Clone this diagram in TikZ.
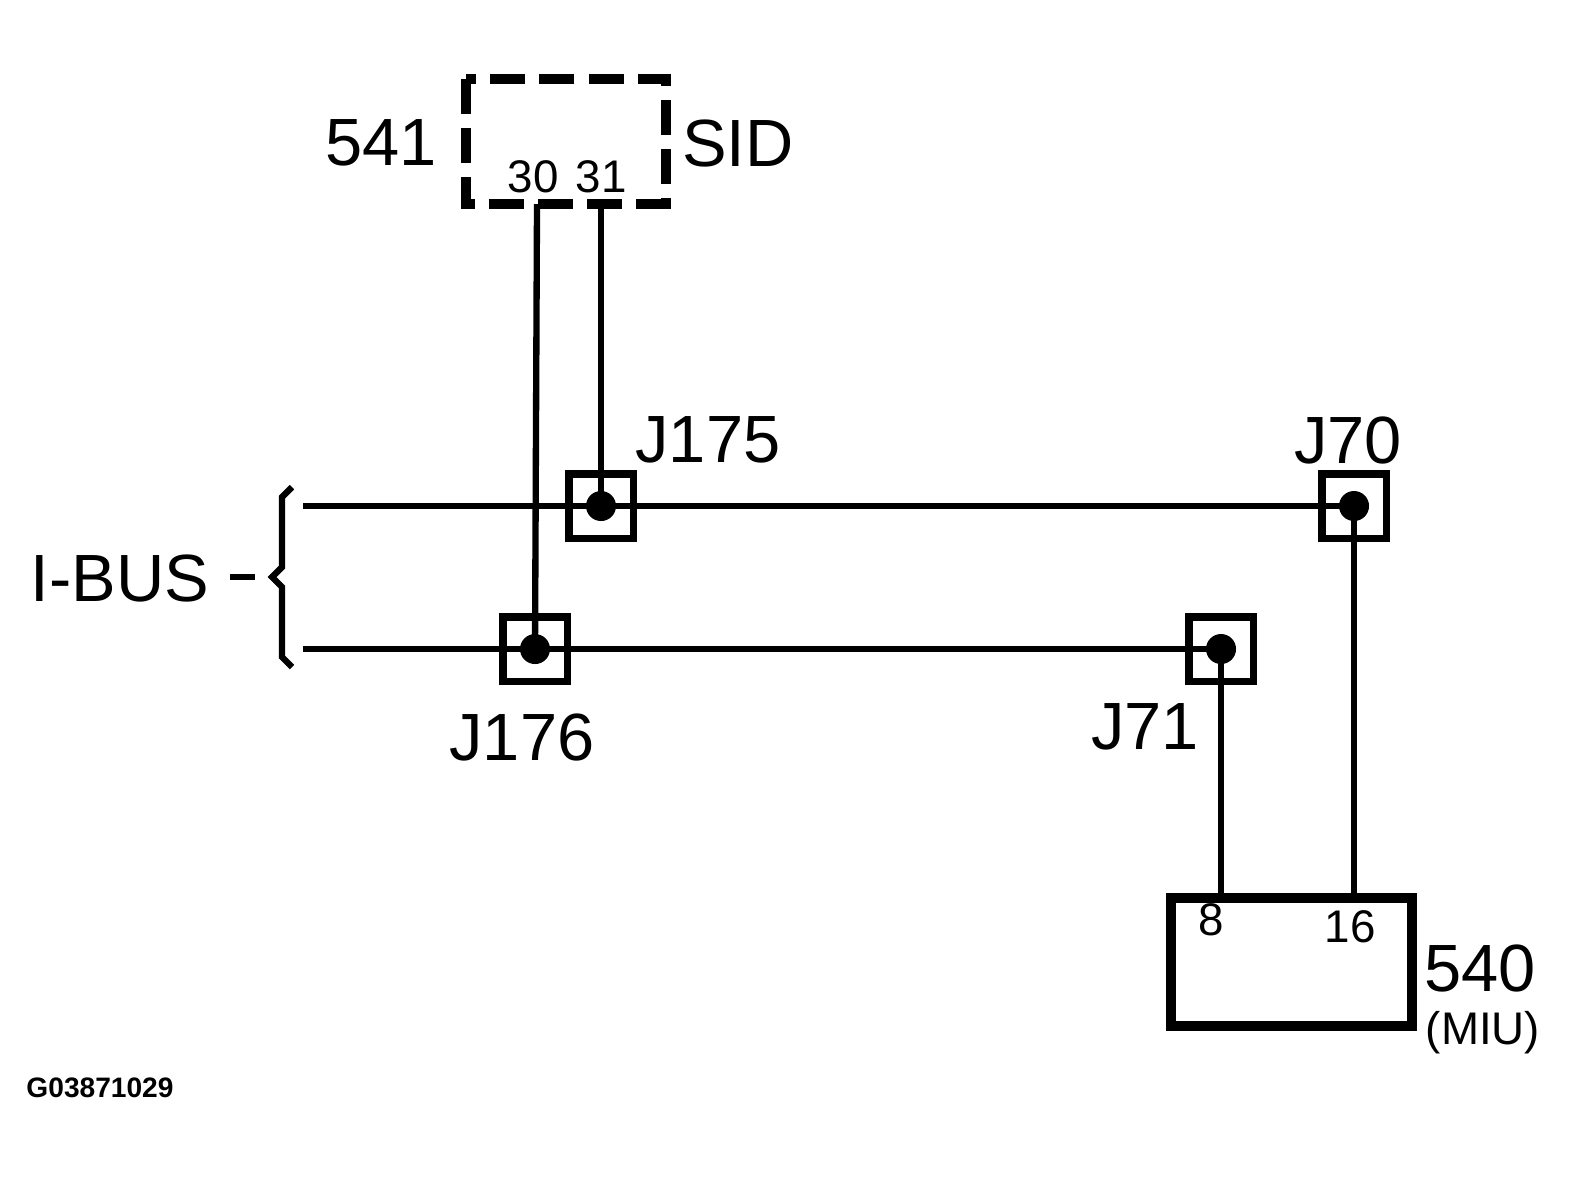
\documentclass[tikz,border=0pt]{standalone}
\usepackage{fontspec}
\setmainfont{Liberation Sans}
\tikzset{
  wire/.style={line width=1.8pt},
  splice/.style={draw,line width=2pt,minimum size=0.64cm,inner sep=0pt},
  bigtxt/.style={font=\fontsize{19}{22}\selectfont},
  pintxt/.style={font=\fontsize{13}{15}\selectfont},
}
\begin{document}
\begin{tikzpicture}[x=0.01cm,y=-0.01cm]
  \useasboundingbox (0,0) rectangle (1580,1181);

  % SID module
  \draw[line width=2.8pt,dash pattern=on 10pt off 4pt] (466,79) rectangle (666,204);
  \node[pintxt] (p30) at (533,177) {30};
  \node[pintxt] (p31) at (601,177) {31};
  \coordinate (s30) at (537,204);
  \coordinate (s31) at (601,204);
  \node[bigtxt] (n541) at (381,143) {541};
  \node[bigtxt] (sid) at (738,143) {SID};

  % splices
  \node[splice] (j175) at (601,506) {};
  \node[splice] (j70) at (1354,506) {};
  \node[splice] (j176) at (535,649) {};
  \node[splice] (j71) at (1221,649) {};
  \foreach \j in {j175,j70,j176,j71}
    \fill (\j.center) circle (0.15cm);
  \node[bigtxt] at (708,440) {J175};
  \node[bigtxt] at (1348,440) {J70};
  \node[bigtxt] at (522,737) {J176};
  \node[bigtxt] at (1145,727) {J71};

  % bus lines
  \coordinate (b1) at (303,506);
  \coordinate (b2) at (303,649);
  \draw[wire] (b1) -- (j175.center) -- (j70.center);
  \draw[wire] (b2) -- (j176.center) -- (j71.center);
  \draw[wire] (s31) -- (j175.center);
  \draw[wire] (s30) -- (j176.center);

  % I-BUS brace
  \draw[wire] (292,487) -- (282,497) -- (282,567) -- (272,577) -- (282,587) -- (282,657) -- (292,667);
  \draw[wire] (230,577) -- (255,577);
  \node[bigtxt] (ibus) at (120,578) {I-BUS};

  % MIU module
  \draw[line width=2.6pt] (1171,898) rectangle (1412,1026);
  \coordinate (m8) at (1221,898);
  \coordinate (m16) at (1354,898);
  \draw[wire] (j71.center) -- (m8);
  \draw[wire] (j70.center) -- (m16);
  \node[pintxt] at (1211,920) {8};
  \node[pintxt] at (1350,927) {16};
  \node[bigtxt] (n540) at (1480,968) {540};
  \node[font=\fontsize{13}{15}\selectfont] (miu) at (1483,1033) {(MIU)};

  \node[font=\bfseries\fontsize{8}{10}\selectfont] at (100,1088) {G03871029};
\end{tikzpicture}
\end{document}
